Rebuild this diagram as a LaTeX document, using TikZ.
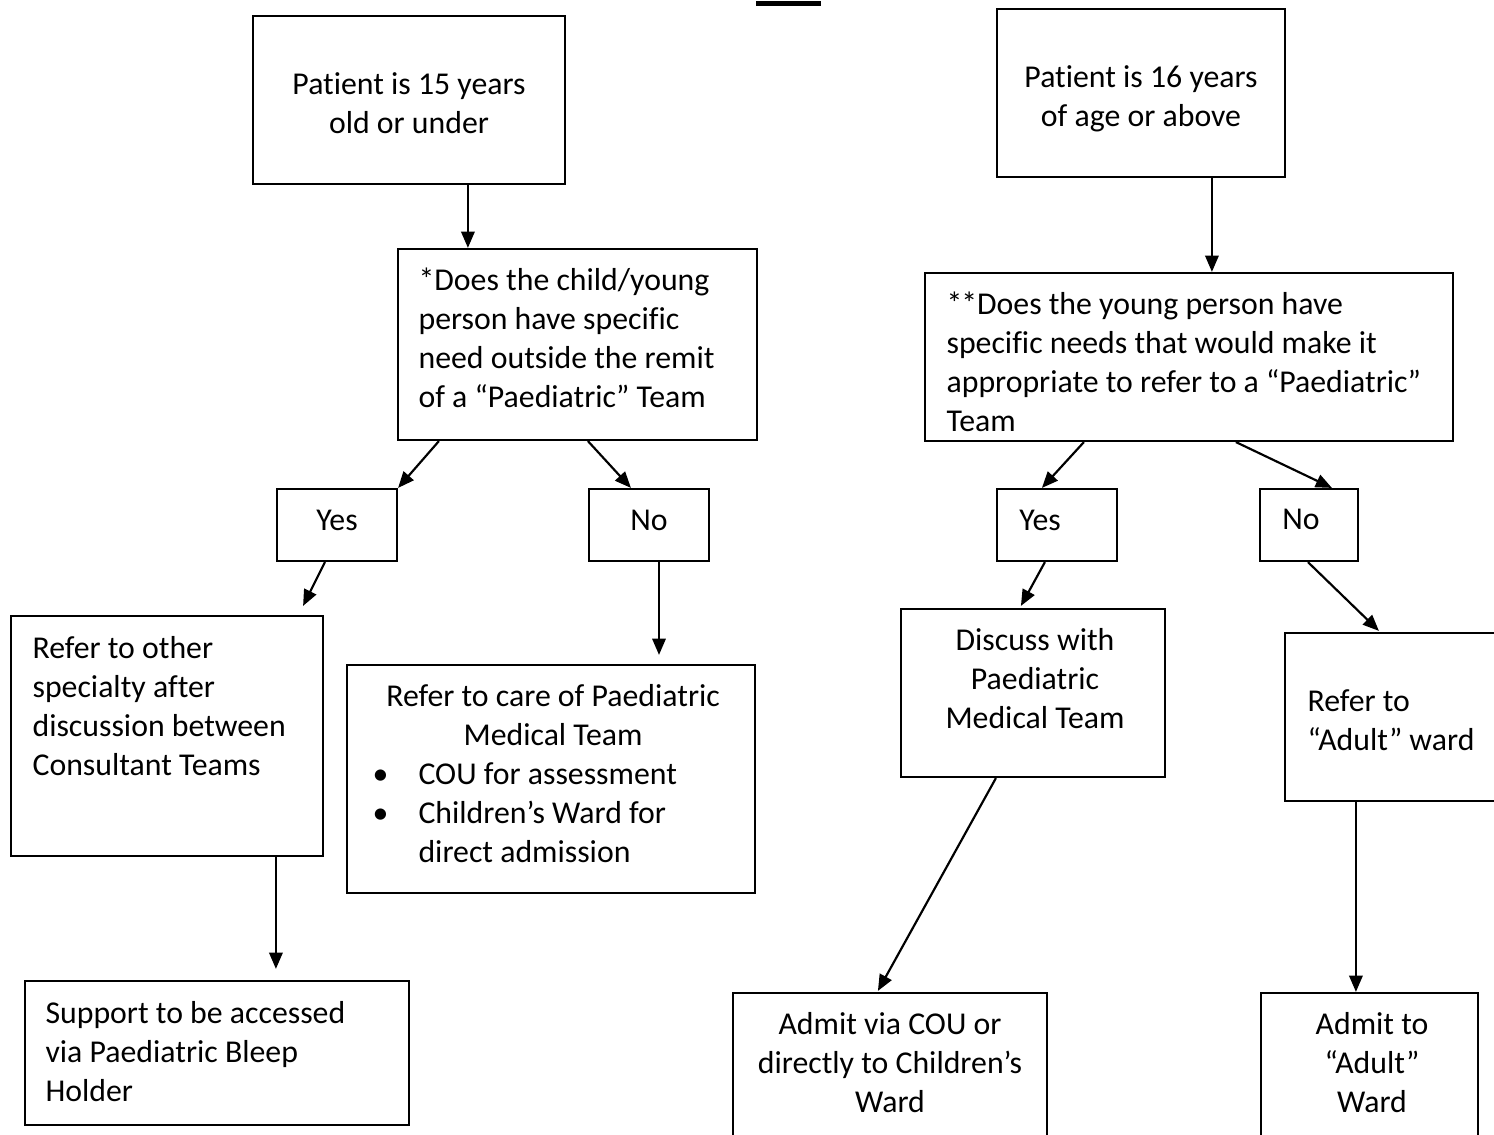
\documentclass[tikz,border=0pt]{standalone}
\usepackage{fontspec}
\setmainfont{Carlito}[Ligatures={NoCommon,NoContextual}]
\usetikzlibrary{calc,arrows.meta}
\begin{document}
\begin{tikzpicture}[x=0.346pt,y=-0.346pt,
  box/.style={draw, line width=0.75pt, inner sep=0pt},
  sz/.style 2 args={minimum width=#1*0.346pt, minimum height=#2*0.346pt},
  txt/.style={inner sep=0pt, font=\fontsize{11}{13.5}\selectfont},
  arr/.style={line width=0.75pt, -{Triangle[length=5.6pt,width=4.6pt]}}]
\useasboundingbox (0,0) rectangle (1494,1135);
\clip (0,0) rectangle (1494,1135);

% top bar
\fill[black] (756,1) rectangle (821,6);

% ---- left column boxes
\node[box, sz={312}{168}] (b1) at (409,100) {};
\node[box, sz={359}{191}] (b2) at (577.5,344.5) {};
\node[box, sz={120}{72}] (yl) at (337,525) {};
\node[box, sz={120}{72}] (nl) at (649,525) {};
\node[box, sz={312}{240}] (b5) at (167,736) {};
\node[box, sz={408}{228}] (b6) at (551,779) {};
\node[box, sz={384}{144}] (b7) at (217,1053) {};

% ---- right column boxes
\node[box, sz={288}{168}] (b8) at (1141,93) {};
\node[box, sz={528}{168}] (b9) at (1189,357) {};
\node[box, sz={120}{72}] (yr) at (1057,525) {};
\node[box, sz={98}{72}] (nr) at (1309,525) {};
\node[box, sz={264}{168}] (b12) at (1033,693) {};
\node[box, sz={235}{168}] (b13) at (1402.5,717) {};
\node[box, sz={314}{167}] (b14) at (890,1076.5) {};
\node[box, sz={217}{167}] (b15) at (1369.5,1076.5) {};

% ---- texts
\node[txt, anchor=north, align=center] (t1) at (409,66.7) {\strut Patient is 15 years\\old or under};
\node[txt, anchor=north west, align=left] (t2) at (418,262.7) {\strut *Does the child/young\\person have specific\\need outside the remit\\of a “Paediatric” Team};
\node[txt, anchor=base] (tyl) at (337,531) {Yes};
\node[txt, anchor=base] (tnl) at (649,531) {No};
\node[txt, anchor=north west, align=left] (t5) at (32,630.7) {\strut Refer to other\\specialty after\\discussion between\\Consultant Teams};
\node[txt, anchor=north west, align=left] (t6) at (372,678.7) {\strut\makebox[124.9pt][c]{Refer to care of Paediatric}\\\makebox[124.9pt][c]{Medical Team}\\\makebox[15.9pt][l]{•}COU for assessment\\\makebox[15.9pt][l]{•}Children’s Ward for\\\hspace*{15.9pt}direct admission};
\node[txt, anchor=north west, align=left] (t7) at (45,995.7) {\strut Support to be accessed\\via Paediatric Bleep\\Holder};

\node[txt, anchor=north, align=center] (t8) at (1141,59.7) {\strut Patient is 16 years\\of age or above};
\node[txt, anchor=north west, align=left] (t9) at (946,286.7) {\strut *\kern-0.4pt*Does the young person have\\specific needs that would make it\\appropriate to refer to a “Paediatric”\\Team};
\node[txt, anchor=base] (tyr) at (1040,531) {Yes};
\node[txt, anchor=base] (tnr) at (1301,530) {No};
\node[txt, anchor=north, align=center] (t12) at (1035,622.7) {\strut Discuss with\\Paediatric\\Medical Team};
\node[txt, anchor=north west, align=left] (t13) at (1307,683.7) {\strut Refer to\\“Adult” ward};
\node[txt, anchor=north, align=center] (t14) at (890,1006.7) {\strut Admit via COU or\\directly to Children’s\\Ward};
\node[txt, anchor=north, align=center] (t15) at (1372,1006.7) {\strut Admit to\\“Adult”\\Ward};

% ---- connectors, left
\coordinate (a1s) at ($(b1.south west)+(216,0)$);
\draw[arr] (a1s) -- (a1s |- b2.north);
\draw[arr] ($(b2.south west)+(42,0)$) -- (yl.north east);
\draw[arr] ($(b2.south west)+(191,0)$) -- ($(nl.north west)+(43,0)$);
\draw[arr] ($(yl.south west)+(49,0)$) -- ($(b5.north east)+(-21,-9)$);
\coordinate (a5s) at ($(nl.south)+(10,0)$);
\coordinate (a5e) at (a5s |- b6.north);
\draw[arr] (a5s) -- ($(a5e)+(0,-9)$);
\coordinate (a6s) at ($(b5.south west)+(266,0)$);
\coordinate (a6e) at (a6s |- b7.north);
\draw[arr] (a6s) -- ($(a6e)+(0,-11)$);

% ---- connectors, right
\coordinate (a7s) at ($(b8.south west)+(216,0)$);
\draw[arr] (a7s) -- (a7s |- b9.north);
\draw[arr] ($(b9.south west)+(160,0)$) -- ($(yr.north west)+(46,0)$);
\draw[arr] ($(b9.south west)+(312,0)$) -- ($(nr.north west)+(73,0)$);
\draw[arr] ($(yr.south west)+(49,0)$) -- ($(b12.north west)+(121,-2)$);
\draw[arr] ($(nr.south west)+(49,0)$) -- ($(b13.north west)+(95,-1)$);
\draw[arr] ($(b12.south west)+(96,0)$) -- ($(b14.north west)+(146,-1)$);
\coordinate (a13s) at ($(b13.south west)+(72,0)$);
\draw[arr] (a13s) -- (a13s |- b15.north);
\end{tikzpicture}
\end{document}
